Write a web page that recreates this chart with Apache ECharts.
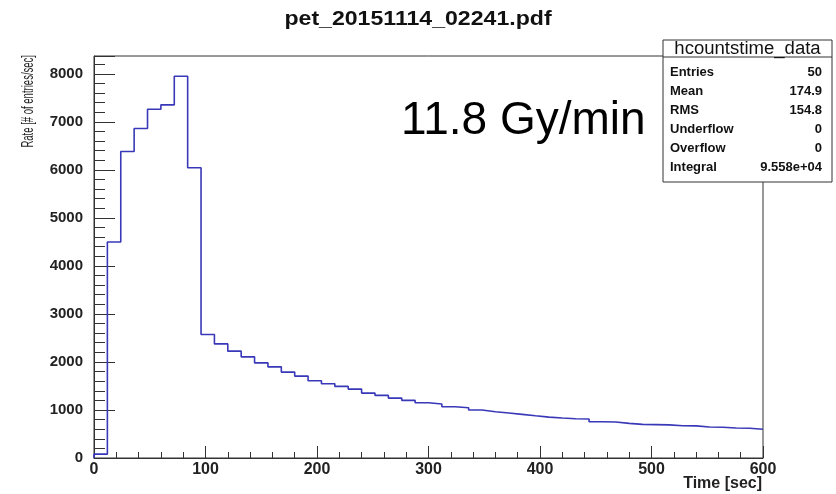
<!DOCTYPE html>
<html>
<head>
<meta charset="utf-8">
<script src="https://cdn.jsdelivr.net/npm/echarts@6/dist/echarts.min.js"></script>
<style>
html,body{margin:0;padding:0;background:#fff;}
#c{width:836px;height:494px;}
</style>
</head>
<body>
<div id="c"></div>
<script>
// Histogram: 50 bins of 12 s from 0 to 600 s
const binWidth = 12;
const rates = [
  80, 4497, 6383, 6861, 7262, 7353, 7948, 6044, 2572, 2376,
  2225, 2106, 1981, 1898, 1788, 1705, 1607, 1545, 1491, 1435,
  1351, 1304, 1247, 1200, 1150, 1123, 1067, 1046, 998, 963,
  936, 909, 879, 852, 832, 817, 811, 755, 750, 721,
  700, 695, 690, 672, 668, 645, 640, 624, 620, 597
];
const xTicks = [0, 100, 200, 300, 400, 500, 600];
const yTicks = [0, 1000, 2000, 3000, 4000, 5000, 6000, 7000, 8000];
const titleText = 'pet_20151114_02241.pdf';
const xName = 'Time [sec]';
const yName = 'Rate [# of entries/sec]';
const doseText = '11.8 Gy/min';
const statsTitle = 'hcountstime_data';
const statsLabels = ['Entries', 'Mean', 'RMS', 'Underflow', 'Overflow', 'Integral'];
const statsValues = ['50', '174.9', '154.8', '0', '0', '9.558e+04'];

// step points at bin edges
const stepData = [[0, 0]];
rates.forEach((v, i) => stepData.push([i * binWidth, v]));
stepData.push([rates.length * binWidth, rates[rates.length - 1]]);

const FONT = 'Liberation Sans, Arial, Helvetica, sans-serif';
const chart = echarts.init(document.getElementById('c'), null, {renderer: 'canvas'});

const graphics = [];
// title
graphics.push({type: 'text', x: 418, y: 19, scaleX: 1.1, style: {text: titleText, font: 'bold 21px ' + FONT, fill: '#111', align: 'center', verticalAlign: 'middle'}});
// y axis name
graphics.push({type: 'text', x: 20, y: 55, rotation: Math.PI / 2, scaleX: 0.56, style: {text: yName, font: '17px ' + FONT, fill: '#222', align: 'right', verticalAlign: 'top'}});
// x axis name
graphics.push({type: 'text', x: 762, y: 476, style: {text: xName, font: 'bold 16px ' + FONT, fill: '#222', align: 'right', verticalAlign: 'top'}});
// dose text
graphics.push({type: 'text', x: 401, y: 98, style: {text: doseText, font: '46px ' + FONT, fill: '#000', align: 'left', verticalAlign: 'top'}});
// stats box
const bx = 663, by = 40, bw = 169, bh = 142;
graphics.push({type: 'rect', shape: {x: bx, y: by, width: bw, height: bh}, style: {fill: '#fff', stroke: '#333', lineWidth: 1}, z: 10});
graphics.push({type: 'line', shape: {x1: bx, y1: 57, x2: bx + bw, y2: 57}, style: {stroke: '#333', lineWidth: 1}, z: 11});
graphics.push({type: 'text', x: bx + bw / 2, y: 49, scaleX: 1.03, style: {text: statsTitle, font: '18px ' + FONT, fill: '#111', align: 'center', verticalAlign: 'middle'}, z: 11});
statsLabels.forEach((lab, i) => {
  const yy = 72 + i * 19;
  graphics.push({type: 'text', x: bx + 7, y: yy, style: {text: lab, font: 'bold 13px ' + FONT, fill: '#111', align: 'left', verticalAlign: 'middle'}, z: 11});
  graphics.push({type: 'text', x: bx + bw - 10, y: yy, style: {text: statsValues[i], font: 'bold 13px ' + FONT, fill: '#111', align: 'right', verticalAlign: 'middle'}, z: 11});
});

chart.setOption({
  animation: false,
  backgroundColor: '#fff',
  grid: {left: 94, right: 73, top: 56, bottom: 36, show: true, borderColor: '#333', borderWidth: 1, backgroundColor: 'transparent'},
  xAxis: {
    type: 'value', min: xTicks[0], max: xTicks[xTicks.length - 1], interval: xTicks[1] - xTicks[0],
    axisLine: {show: true, onZero: false, lineStyle: {color: '#333', width: 1}},
    axisTick: {show: true, inside: true, length: 12, lineStyle: {color: '#333'}},
    minorTick: {show: true, splitNumber: 5, length: 6, lineStyle: {color: '#333'}},
    splitLine: {show: false},
    axisLabel: {fontFamily: FONT, fontWeight: 'bold', fontSize: 16, color: '#222', margin: 4}
  },
  yAxis: {
    type: 'value', min: yTicks[0], max: 8370, interval: yTicks[1] - yTicks[0],
    axisLine: {show: true, lineStyle: {color: '#333', width: 1}},
    axisTick: {show: true, inside: true, length: 21, lineStyle: {color: '#333'}},
    minorTick: {show: true, splitNumber: 5, length: 11, lineStyle: {color: '#333'}},
    splitLine: {show: false},
    axisLabel: {fontFamily: FONT, fontWeight: 'bold', fontSize: 15, color: '#222', margin: 11, showMaxLabel: false,
      formatter: v => (yTicks.indexOf(v) >= 0 ? String(v) : '')}
  },
  series: [{
    type: 'line', step: 'end', data: stepData, symbol: 'none',
    lineStyle: {color: '#3838b8', width: 1.6}, clip: true
  }],
  graphic: graphics
});
</script>
</body>
</html>
